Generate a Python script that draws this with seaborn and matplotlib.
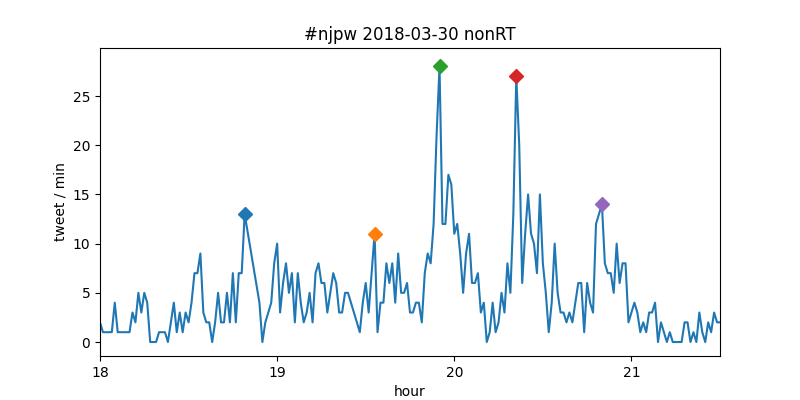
import matplotlib
matplotlib.use("Agg")
import matplotlib.pyplot as plt
import seaborn as sns
import pandas as pd

# minutes after 18:00 and tweets per minute (gap 50-53 has no data)
minutes = list(range(0, 50)) + list(range(54, 211))
counts = [
    2, 1, 1, 1, 1, 4, 1, 1, 1, 1,          # 0-9
    1, 3, 2, 5, 3, 5, 4, 0, 0, 0,          # 10-19
    1, 1, 1, 0, 2, 4, 1, 3, 1, 3,          # 20-29
    2, 4, 7, 7, 9, 3, 2, 2, 0, 2,          # 30-39
    5, 2, 2, 5, 2, 7, 2, 7, 7, 13,         # 40-49
    4, 0, 2, 3, 4, 8,                      # 54-59
    10, 3, 6, 8, 5, 7, 2, 7, 4, 2,         # 60-69
    3, 5, 2, 7, 8, 6, 6, 3, 5, 7,          # 70-79
    6, 3, 3, 5, 5, 4, 3, 2, 1, 4,          # 80-89
    6, 3, 7, 11, 1, 4, 4, 8, 6, 8,         # 90-99
    4, 9, 5, 5, 6, 3, 3, 4, 4, 2,          # 100-109
    7, 9, 8, 12, 21, 28, 12, 12, 17, 16,   # 110-119
    11, 12, 9, 5, 9, 11, 6, 6, 7, 3,       # 120-129
    4, 0, 1, 4, 1, 2, 5, 3, 8, 5,          # 130-139
    13, 27, 20, 6, 11, 15, 11, 10, 7, 15,  # 140-149
    8, 5, 1, 4, 10, 5, 3, 3, 2, 3,         # 150-159
    2, 4, 6, 6, 1, 6, 4, 3, 12, 13,        # 160-169
    14, 8, 7, 7, 5, 10, 6, 8, 8, 2,        # 170-179
    3, 4, 3, 1, 2, 1, 3, 3, 4, 0,          # 180-189
    2, 1, 0, 1, 0, 0, 0, 0, 2, 2,          # 190-199
    0, 1, 0, 3, 1, 0, 2, 1, 3, 2,          # 200-209
    2,                                     # 210
]

# highlighted peaks (minute after 18:00)
peak_minutes = [49, 93, 115, 141, 170]
peak_colors = ["C0", "C1", "C2", "C3", "C4"]

df = pd.DataFrame({"hour": [18 + m / 60 for m in minutes], "count": counts})
lookup = dict(zip(minutes, counts))

fig, ax = plt.subplots(figsize=(8, 4), dpi=100)
sns.lineplot(data=df, x="hour", y="count", color="C0", linewidth=1.5, ax=ax)
for m, c in zip(peak_minutes, peak_colors):
    ax.plot([18 + m / 60], [lookup[m]], marker="D", color=c, markersize=7,
            linestyle="none")

ax.set_xlim(18, 21.5)
ax.set_ylim(-1.42, 29.88)
ax.set_xticks([18, 19, 20, 21])
ax.set_yticks([0, 5, 10, 15, 20, 25])
ax.set_title("#njpw 2018-03-30 nonRT")
ax.set_xlabel("hour")
ax.set_ylabel("tweet / min")

fig.savefig("out.png", dpi=100)
